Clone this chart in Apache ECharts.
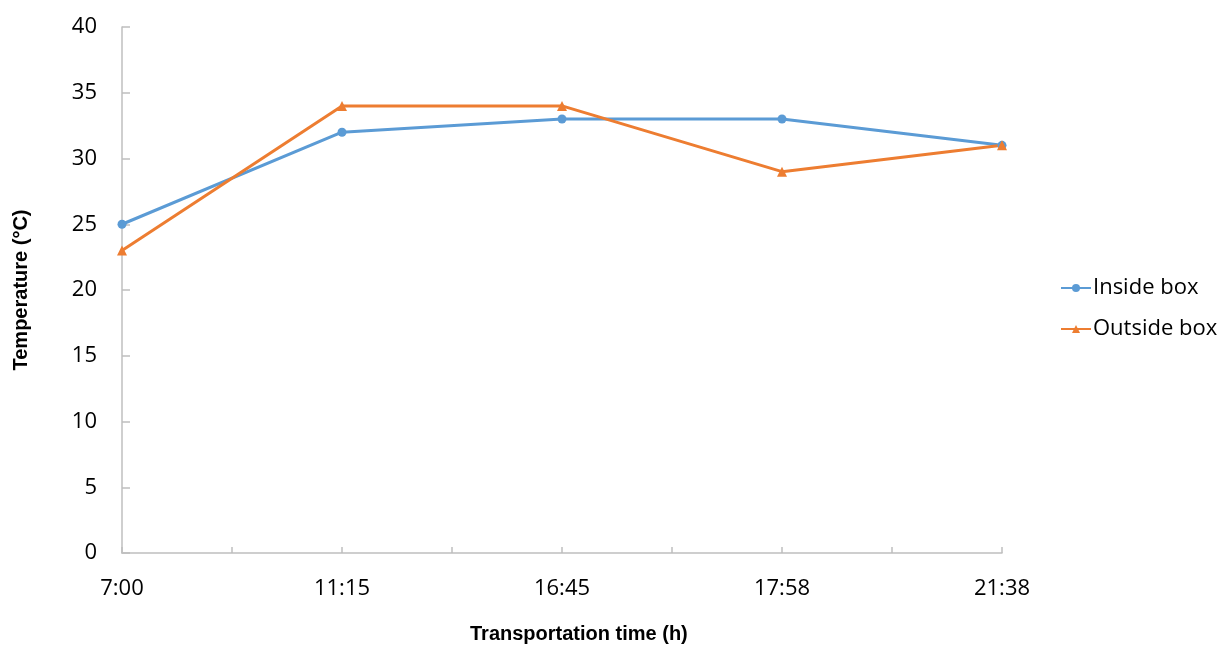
<!DOCTYPE html>
<html><head><meta charset="utf-8">
<script src="https://cdn.jsdelivr.net/npm/echarts@6/dist/echarts.min.js"></script>
<style>html,body{margin:0;padding:0;background:#fff}#c{width:1218px;height:645px}</style>
</head><body><div id="c"></div>
<script>
const categories = ['7:00', '11:15', '16:45', '17:58', '21:38'];
const insideBox = [25, 32, 33, 33, 31];
const outsideBox = [23, 34, 34, 29, 31];
const yTicks = [0, 5, 10, 15, 20, 25, 30, 35, 40];

const chart = echarts.init(document.getElementById('c'));
const lbl = {fontFamily: 'Open Sans', fontSize: 22, color: '#000'};
chart.setOption({
  animation: false,
  grid: {left: 122, right: 216, top: 27, bottom: 92, outerBoundsMode: 'none', containLabel: false},
  xAxis: {
    type: 'value', min: 0, max: categories.length - 1, interval: 0.5,
    splitLine: {show: false},
    axisLine: {lineStyle: {color: '#bfbfbf', width: 1.5}},
    axisTick: {inside: true, length: 6, lineStyle: {color: '#bfbfbf', width: 1.5}},
    axisLabel: Object.assign({margin: 25, formatter: v => Number.isInteger(v) ? categories[v] : '', showMaxLabel: true, showMinLabel: true}, lbl)
  },
  yAxis: {
    type: 'value', min: yTicks[0], max: yTicks[yTicks.length - 1], interval: 5,
    splitLine: {show: false},
    axisLine: {show: true, lineStyle: {color: '#bfbfbf', width: 1.5}},
    axisTick: {show: true, inside: true, length: 8, lineStyle: {color: '#bfbfbf', width: 1.5}},
    axisLabel: Object.assign({margin: 25}, lbl),
    name: 'Temperature (°C)', nameLocation: 'middle', nameGap: 91,
    nameTextStyle: {fontFamily: 'Liberation Sans', fontWeight: 'bold', fontSize: 20, color: '#000'}
  },
  legend: {
    orient: 'vertical', left: 1055, top: 272, itemGap: 19, itemWidth: 30, itemHeight: 10,
    textStyle: Object.assign({padding: [0, 0, 0, -3]}, lbl),
    data: ['Inside box', 'Outside box']
  },
  graphic: [{
    type: 'text', x: 470, y: 624,
    style: {text: 'Transportation time (h)', font: 'bold 20px "Liberation Sans"', fill: '#000'}
  }],
  series: [
    {name: 'Inside box', type: 'line', data: insideBox.map((v, i) => [i, v]),
     symbol: 'circle', symbolSize: 9, itemStyle: {color: '#5B9BD5'}, lineStyle: {width: 3, color: '#5B9BD5'}},
    {name: 'Outside box', type: 'line', data: outsideBox.map((v, i) => [i, v]),
     symbol: 'triangle', symbolSize: 10, itemStyle: {color: '#ED7D31'}, lineStyle: {width: 3, color: '#ED7D31'}}
  ]
});
</script></body></html>
